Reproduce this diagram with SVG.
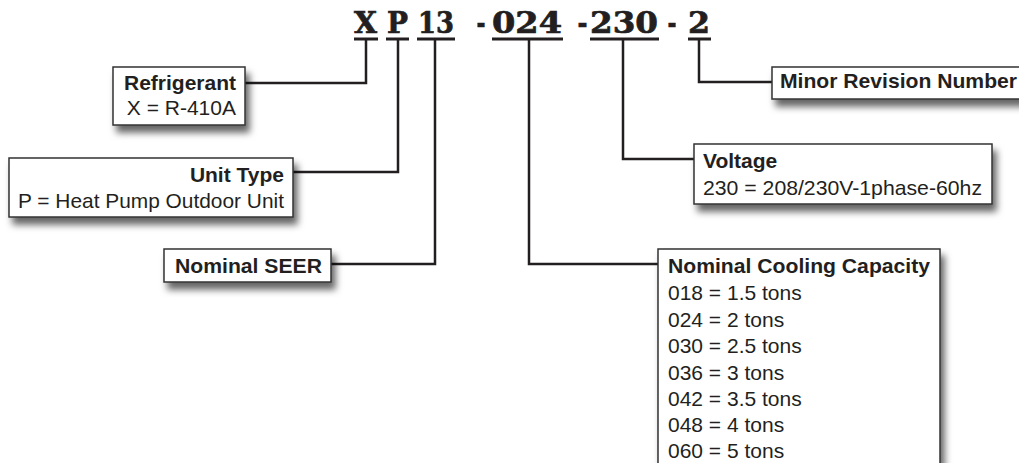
<svg xmlns="http://www.w3.org/2000/svg" width="1019" height="463" viewBox="0 0 1019 463">
<defs>
<filter id="sh" x="-10%" y="-20%" width="130%" height="170%">
<feDropShadow dx="4" dy="7" stdDeviation="3.5" flood-color="#000" flood-opacity="0.6"/>
</filter>
</defs>
<style>
.box{fill:#fff;stroke:#333;stroke-width:1.5;filter:url(#sh)}
.t{font-family:"Liberation Sans",Arial,sans-serif;font-size:21px;fill:#231f20}
.b{font-weight:bold}
.code{font-family:"DejaVu Serif",serif;font-weight:bold;font-size:29px;fill:#231f20;stroke:#231f20;stroke-width:0.7;text-anchor:middle}
.ul{stroke:#231f20;stroke-width:2.8;fill:none}
.c{stroke:#231f20;stroke-width:2.5;fill:none}
</style>
<rect width="1019" height="463" fill="#fff"/>
<g id="code">
<text class="code" x="365.5" y="33" textLength="23" lengthAdjust="spacingAndGlyphs">X</text>
<text class="code" x="397.5" y="33" textLength="21" lengthAdjust="spacingAndGlyphs">P</text>
<text class="code" x="436" y="33" textLength="36" lengthAdjust="spacingAndGlyphs">13</text>
<text class="code" x="481" y="33" textLength="9" lengthAdjust="spacingAndGlyphs">-</text>
<text class="code" x="527" y="33" textLength="70" lengthAdjust="spacingAndGlyphs">024</text>
<text class="code" x="582.5" y="33" textLength="10" lengthAdjust="spacingAndGlyphs">-</text>
<text class="code" x="624" y="33" textLength="68" lengthAdjust="spacingAndGlyphs">230</text>
<text class="code" x="672" y="33" textLength="9" lengthAdjust="spacingAndGlyphs">-</text>
<text class="code" x="699" y="33" textLength="22" lengthAdjust="spacingAndGlyphs">2</text>
<path class="ul" d="M354 39H378M386 39H409M417 39H455M492 39H563M590 39H659M688 39H711"/>
</g>
<g id="connectors">
<path class="c" d="M366 39V83H245"/>
<path class="c" d="M398 39V172H293"/>
<path class="c" d="M435 39V264H331"/>
<path class="c" d="M529 39V264H658"/>
<path class="c" d="M623 39V159H694"/>
<path class="c" d="M699 39V82H772"/>
</g>
<g id="refrigerant">
<rect class="box" x="113" y="67" width="132" height="58"/>
<text class="t b" x="236" y="90" text-anchor="end">Refrigerant</text>
<text class="t" x="236" y="115" text-anchor="end">X = R-410A</text>
</g>
<g id="unit-type">
<rect class="box" x="9" y="158" width="284" height="59"/>
<text class="t b" x="284" y="182" text-anchor="end">Unit Type</text>
<text class="t" x="284" y="208" text-anchor="end" textLength="266" lengthAdjust="spacingAndGlyphs">P = Heat Pump Outdoor Unit</text>
</g>
<g id="nominal-seer">
<rect class="box" x="164" y="249" width="167" height="33"/>
<text class="t b" x="175" y="273" textLength="147" lengthAdjust="spacingAndGlyphs">Nominal SEER</text>
</g>
<g id="minor-revision">
<rect class="box" x="772" y="67" width="260" height="32"/>
<text class="t b" x="780" y="88" textLength="237" lengthAdjust="spacingAndGlyphs">Minor Revision Number</text>
</g>
<g id="voltage">
<rect class="box" x="694" y="144" width="298" height="60"/>
<text class="t b" x="703" y="168">Voltage</text>
<text class="t" x="703" y="195" textLength="279" lengthAdjust="spacingAndGlyphs">230 = 208/230V-1phase-60hz</text>
</g>
<g id="cooling-capacity">
<rect class="box" x="658" y="249" width="282" height="230"/>
<text class="t b" x="668" y="273" textLength="262" lengthAdjust="spacingAndGlyphs">Nominal Cooling Capacity</text>
<text class="t" x="668" y="300">018 = 1.5 tons</text>
<text class="t" x="668" y="327">024 = 2 tons</text>
<text class="t" x="668" y="353">030 = 2.5 tons</text>
<text class="t" x="668" y="380">036 = 3 tons</text>
<text class="t" x="668" y="406">042 = 3.5 tons</text>
<text class="t" x="668" y="432">048 = 4 tons</text>
<text class="t" x="668" y="458">060 = 5 tons</text>
</g>
</svg>
